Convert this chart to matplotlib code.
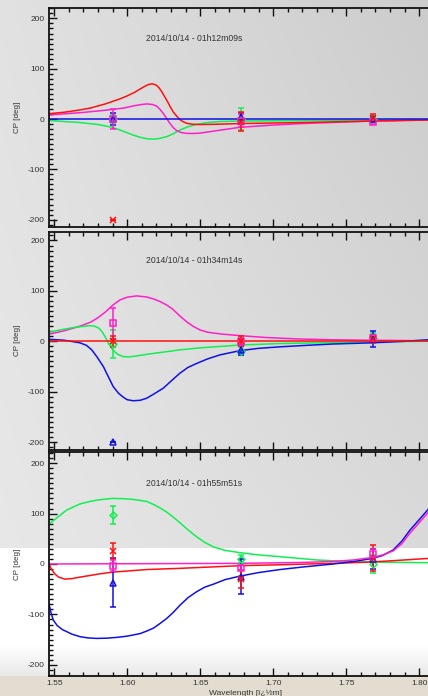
import numpy as np
import matplotlib
matplotlib.use("Agg")
import matplotlib.pyplot as plt
from matplotlib.ticker import MultipleLocator

plt.rcParams['font.family'] = ['Liberation Sans', 'DejaVu Sans']

# ----- data -----
titles = ["2014/10/14 - 01h12m09s", "2014/10/14 - 01h34m14s", "2014/10/14 - 01h55m51s"]
data_wl = [1.590, 1.678, 1.768]
wl_min, wl_max = 1.5464, 1.806

# panel 1 model curves
p1_red_wl = [1.5464, 1.557, 1.5676, 1.575, 1.580, 1.585, 1.590, 1.595, 1.600, 1.605, 1.609, 1.612,
             1.6145, 1.617, 1.6195, 1.6215, 1.6235, 1.6255, 1.6275, 1.6295, 1.6315, 1.6338, 1.636,
             1.638, 1.6407, 1.645, 1.650, 1.660, 1.678, 1.720, 1.768, 1.806]
p1_red = [10.5, 13.5, 18, 22, 26, 30, 35, 40, 46, 53, 60, 65, 68.5, 70, 68, 63, 55, 45, 35, 24, 14,
          6, -1, -5, -8.5, -10.5, -11, -10.5, -9, -7, -4, -2]
p1_mag_wl = [1.5464, 1.5676, 1.580, 1.5898, 1.598, 1.6041, 1.609, 1.6133, 1.617, 1.620, 1.6225,
             1.6247, 1.627, 1.6293, 1.6315, 1.6338, 1.637, 1.6407, 1.645, 1.6498, 1.657, 1.664,
             1.6772, 1.700, 1.720, 1.768, 1.806]
p1_mag = [8, 12.5, 16, 19, 22, 26, 28.5, 30, 29, 26, 19, 11, 1, -9, -17, -23, -27, -28.5, -28.8,
          -28, -25, -22, -16.5, -12, -9, -4, -2]
p1_grn_wl = [1.5464, 1.5676, 1.580, 1.5898, 1.597, 1.6041, 1.609, 1.6135, 1.6178, 1.622, 1.627,
             1.631, 1.636, 1.6415, 1.6475, 1.655, 1.6635, 1.678, 1.720, 1.768, 1.806]
p1_grn = [-3, -7, -11, -16.5, -24, -32, -36.5, -39.3, -40, -38.8, -35, -30, -22, -15.5, -10.6,
          -7, -5, -4, -3, -2, -1]
p1_blu_wl = [1.5464, 1.806]
p1_blu = [0, 0]

# panel 2 model curves
p2_mag_wl = [1.5464, 1.557, 1.5676, 1.575, 1.580, 1.585, 1.5902, 1.595, 1.600, 1.6064, 1.613, 1.618,
             1.6224, 1.627, 1.631, 1.6361, 1.641, 1.645, 1.6498, 1.655, 1.664, 1.6779, 1.695, 1.7183,
             1.740, 1.768, 1.806]
p2_mag = [14, 21, 30, 38, 47, 58, 72, 82, 87.5, 90, 88, 84, 79, 72, 64, 50, 38, 30, 22.5, 18, 14.5,
          11, 7.5, 4.5, 3, 2, 1]
p2_grn_wl = [1.5464, 1.555, 1.565, 1.5745, 1.5775, 1.5805, 1.583, 1.585, 1.5875, 1.5904, 1.5935,
             1.5973, 1.601, 1.6041, 1.6155, 1.626, 1.636, 1.650, 1.660, 1.6772, 1.7046, 1.740,
             1.7681, 1.806]
p2_grn = [18, 23, 28, 31, 30, 26, 18, 8, -6, -18, -26, -30.5, -31, -30, -25, -21, -17, -13, -11,
          -7.5, -4.5, -2.5, -1, 0]
p2_blu_wl = [1.5464, 1.557, 1.5676, 1.572, 1.5757, 1.5795, 1.5836, 1.587, 1.5904, 1.594, 1.5973,
             1.600, 1.6041, 1.609, 1.6133, 1.618, 1.6247, 1.630, 1.636, 1.6415, 1.6475, 1.655, 1.6635,
             1.6772, 1.690, 1.7046, 1.720, 1.740, 1.7681, 1.790, 1.806]
p2_blu = [4, 2, -3, -8, -17, -32, -50, -70, -90, -103, -111, -116, -118, -117, -113, -105, -93, -79,
          -63.5, -52, -44, -35, -27, -18.6, -14, -11, -8.5, -5.5, -3, 0, 3]
p2_red_wl = [1.5464, 1.806]
p2_red = [0, 0]

# panel 3 model curves
p3_grn_wl = [1.5464, 1.552, 1.5585, 1.5676, 1.5745, 1.580, 1.5898, 1.597, 1.6041, 1.6133, 1.618,
             1.6225, 1.627, 1.6315, 1.636, 1.6415, 1.6475, 1.653, 1.659, 1.667, 1.6772, 1.690,
             1.7046, 1.7297, 1.740, 1.764, 1.806]
p3_grn = [79, 92, 107, 119, 124, 127, 130, 129.5, 128, 124, 118, 111, 103, 93, 82, 68, 54, 43, 34,
          27, 22.5, 18, 14.5, 8, 6.5, 4, 2.6]
p3_blu_wl = [1.5464, 1.5478, 1.5493, 1.552, 1.5555, 1.5585, 1.562, 1.5676, 1.573, 1.579, 1.586,
             1.5927, 1.600, 1.6087, 1.6133, 1.618, 1.6224, 1.627, 1.6315, 1.636, 1.6415, 1.6475,
             1.653, 1.659, 1.667, 1.6772, 1.690, 1.7046, 1.720, 1.7411, 1.755, 1.7681, 1.775,
             1.7822, 1.788, 1.7936, 1.800, 1.806]
p3_blu = [-79, -97, -111, -122, -130, -134, -139, -144, -146.5, -147.5, -147, -145.5, -143, -138,
          -133, -127, -118, -108, -96, -82, -67, -55, -46, -40, -31, -24, -17, -11, -6, 0, 5, 11,
          17, 28, 45, 67, 88, 108]
p3_mag_wl = [1.5464, 1.6772, 1.7183, 1.7411, 1.755, 1.7681, 1.775, 1.7822, 1.788, 1.7936, 1.800,
             1.806]
p3_mag = [0, 1.3, 3, 5, 8, 13, 18, 26, 40, 61, 82, 102]
p3_red_wl = [1.5464, 1.548, 1.5505, 1.553, 1.5573, 1.562, 1.5676, 1.575, 1.580, 1.5904, 1.6133,
             1.636, 1.6779, 1.7046, 1.7411, 1.7681, 1.806]
p3_red = [0, -10, -20, -26, -30, -29, -26, -22.5, -20, -16, -11, -8.6, -3.3, -1.5, 1.3, 4, 11]

# data points (value, error) at data_wl, one list per panel and colour
p1_blu_pt, p1_blu_err = [0, 3, 0], [12, 8, 3]
p1_grn_pt, p1_grn_err = [0, 0, 0], [8, 22, 5]
p1_mag_pt, p1_mag_err = [0, -3, -5], [20, 12, 4]
p1_red_pt, p1_red_err = [-200, -5, 2], [0, 18, 8]

p2_blu_pt, p2_blu_err = [-200, -18, 5], [0, 10, 16]
p2_grn_pt, p2_grn_err = [-5, -20, 6], [28, 8, 10]
p2_mag_pt, p2_mag_err = [36, -2, 6], [31, 8, 5]
p2_red_pt, p2_red_err = [0, 0, 5], [11, 10, 8]

p3_blu_pt, p3_blu_err = [-37, -25, 10], [48, 35, 20]
p3_grn_pt, p3_grn_err = [97, 10.6, 0], [18, 8, 18]
p3_mag_pt, p3_mag_err = [-3, -7, 20], [10, 5, 10]
p3_red_pt, p3_red_err = [26, -30, 12], [16, 18, 26]

RED = "#ff1010"
GRN = "#10f050"
MAG = "#ff20c8"
BLU = "#1010e8"

panels = [
    dict(curves=[(p1_grn_wl, p1_grn, GRN), (p1_mag_wl, p1_mag, MAG), (p1_red_wl, p1_red, RED),
                 (p1_blu_wl, p1_blu, BLU)],
         points=[(p1_grn_pt, p1_grn_err, GRN, 'D'), (p1_blu_pt, p1_blu_err, BLU, '^'),
                 (p1_mag_pt, p1_mag_err, MAG, 's'), (p1_red_pt, p1_red_err, RED, 'x')],
         ylim=(-214.7, 220.7), box=(8, 227)),
    dict(curves=[(p2_mag_wl, p2_mag, MAG), (p2_grn_wl, p2_grn, GRN), (p2_blu_wl, p2_blu, BLU),
                 (p2_red_wl, p2_red, RED)],
         points=[(p2_grn_pt, p2_grn_err, GRN, 'D'), (p2_blu_pt, p2_blu_err, BLU, '^'),
                 (p2_mag_pt, p2_mag_err, MAG, 's'), (p2_red_pt, p2_red_err, RED, 'x')],
         ylim=(-215.7, 217.8), box=(231.5, 450)),
    dict(curves=[(p3_grn_wl, p3_grn, GRN), (p3_red_wl, p3_red, RED), (p3_blu_wl, p3_blu, BLU),
                 (p3_mag_wl, p3_mag, MAG)],
         points=[(p3_grn_pt, p3_grn_err, GRN, 'D'), (p3_blu_pt, p3_blu_err, BLU, '^'),
                 (p3_red_pt, p3_red_err, RED, 'x'), (p3_mag_pt, p3_mag_err, MAG, 's')],
         ylim=(-222, 222), box=(452, 676)),
]

W, H = 428, 696
fig = plt.figure(figsize=(W / 100, H / 100), dpi=100)

# background: grey gradient, white lower part of last panel, tan strip at the bottom
bg_ax = fig.add_axes([0, 0, 1, 1], zorder=-10)
yy, xx = np.mgrid[0:H, 0:W]
g = 0.885 + 0.03 * (yy / H) - 0.085 * (xx / W) * (1 - 0.45 * yy / H)
white = (yy >= 548) & (yy < 676)
fade = np.clip((yy - 645) / 31.0, 0, 1)
g = np.where(white, 1.0 - 0.09 * fade, g)
img = np.dstack([g, g, g])
tan = yy >= 676
img[tan] = [0.89, 0.865, 0.82]
bg_ax.imshow(img, aspect='auto', extent=[0, W, H, 0], interpolation='bilinear')
bg_ax.set_axis_off()

left = 49 / W
for i, p in enumerate(panels):
    top, bot = p["box"]
    ax = fig.add_axes([left, 1 - bot / H, 1 - left, (bot - top) / H])
    ax.patch.set_alpha(0)
    for wl, vals, col in p["curves"]:
        ax.plot(wl, vals, color=col, lw=1.1, zorder=2)
    for vals, errs, col, mk in p["points"]:
        ax.errorbar(data_wl, vals, yerr=errs, fmt=mk, color=col, ecolor=col,
                    mfc='none', mec=col, ms=4.5 if mk != 'D' else 3.5, mew=1.1,
                    elinewidth=1.1, capsize=2, capthick=1.1, zorder=3)
    ax.text(1.6126, 160, titles[i], fontsize=6.2, color="#333333", ha='left', va='center')
    ax.set_xlim(wl_min, wl_max)
    ax.set_ylim(*p["ylim"])
    ax.xaxis.set_major_locator(MultipleLocator(0.05))
    ax.xaxis.set_minor_locator(MultipleLocator(0.01))
    ax.yaxis.set_major_locator(MultipleLocator(100))
    ax.yaxis.set_minor_locator(MultipleLocator(10))
    ax.tick_params(which='both', direction='in', top=True, bottom=True, left=True, right=False,
                   width=1.0, colors='#111111', labelcolor='#333333', labelsize=6, pad=3)
    ax.tick_params(which='major', length=6)
    ax.tick_params(which='minor', length=3)
    ax.yaxis.set_major_formatter(plt.FuncFormatter(lambda v, pos: f"{v:.0f}"))
    for s in ["left", "top", "bottom"]:
        ax.spines[s].set_linewidth(1.3)
        ax.spines[s].set_color("#111111")
    ax.spines["right"].set_visible(False)
    ax.set_ylabel("CP [deg]", fontsize=5.8, color="#333333")
    ax.yaxis.set_label_coords(-0.075, 0.5)
    if i < 2:
        ax.tick_params(labelbottom=False)
    else:
        ax.xaxis.set_major_formatter(plt.FuncFormatter(lambda v, pos: f"{v:.2f}"))
        ax.set_xlabel("Wavelength [ï¿½m]", fontsize=6, color="#333333")
        ax.xaxis.set_label_coords(0.518, -0.062)

fig.savefig("out.png", dpi=100)
